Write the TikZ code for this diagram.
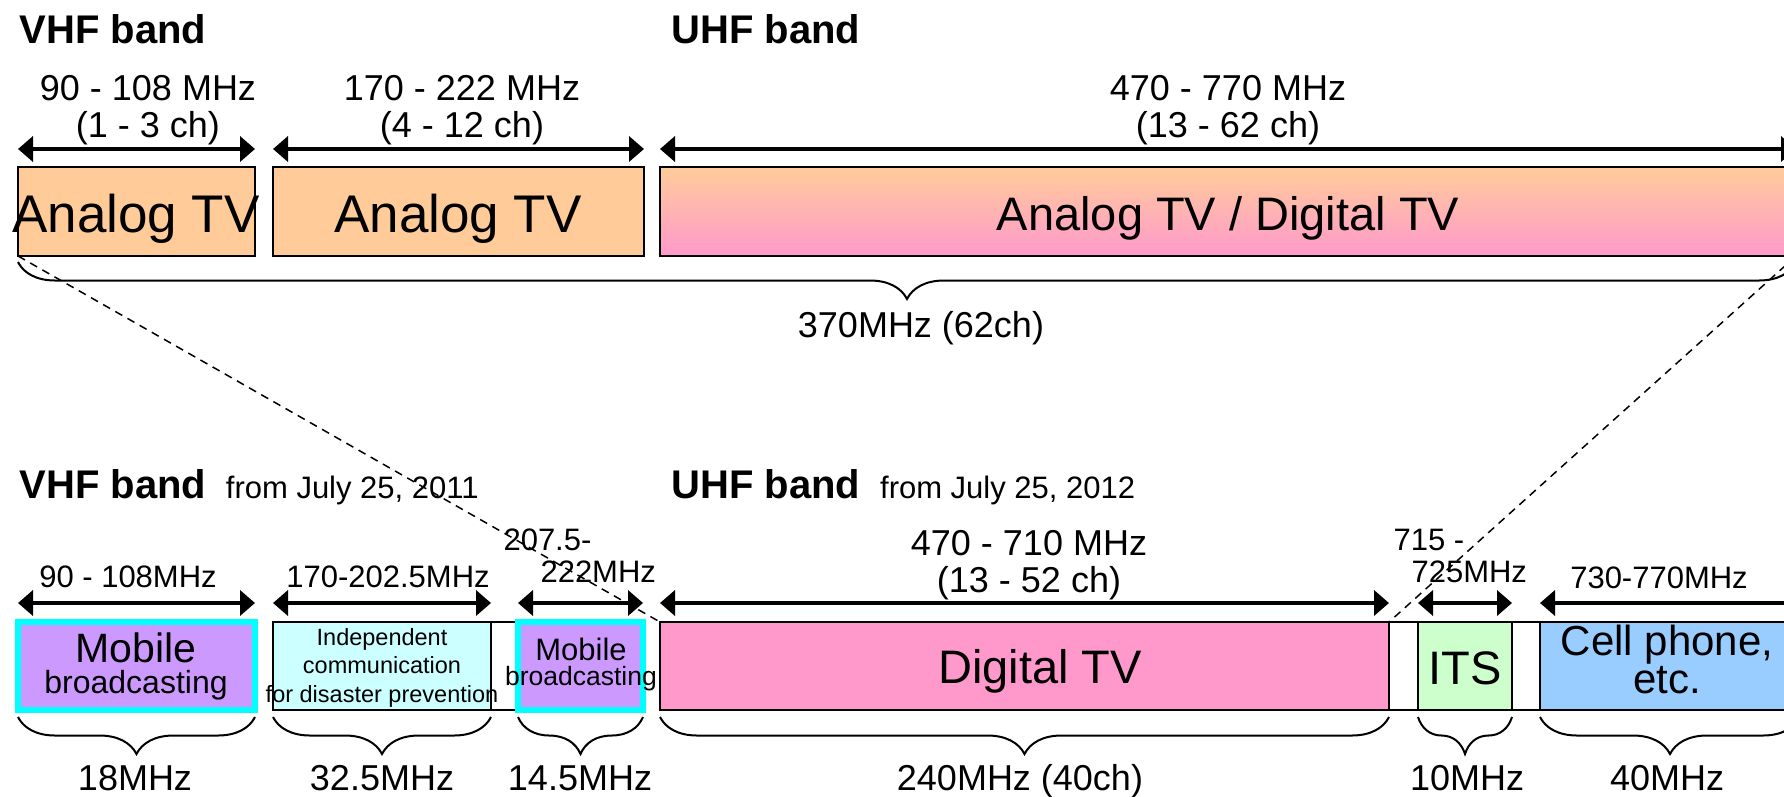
\documentclass[tikz,border=0pt]{standalone}
\usepackage{fontspec}
\setmainfont{Liberation Sans}
\usetikzlibrary{positioning,arrows.meta,calc,decorations.pathreplacing}
\definecolor{analog}{HTML}{FFCC99}
\definecolor{digital}{HTML}{FF99CC}
\definecolor{mobile}{HTML}{CC99FF}
\definecolor{disaster}{HTML}{CCFFFF}
\definecolor{itsgreen}{HTML}{CCFFCC}
\definecolor{cellblue}{HTML}{99CCFF}
\definecolor{frame}{HTML}{00FFFF}
\newcommand{\fsize}[2]{\fontsize{#1}{#2}\selectfont}
\tikzset{chart/.style={x=1pt,y=-1pt,>={Triangle[length=15pt,width=25pt]}},
    band/.style={draw,line width=2pt,outer sep=0pt,inner sep=0pt,anchor=north west},
    mobile band/.style={band,fill=mobile,draw=frame,line width=6pt},
    range arrow/.style={<->,line width=4pt},
    zoom line/.style={line width=1.5pt,dash pattern=on 8pt off 6pt},
    size brace/.style={decorate,decoration={brace,mirror,amplitude=37pt},line width=2pt},
    band title/.style={anchor=base west,font=\fsize{40}{44}\bfseries},
    big label/.style={anchor=base,align=center,font=\fsize{36}{37}},
    small label/.style={anchor=base,align=center,font=\fsize{31}{32}},
    box text/.style={anchor=base,align=center}}

\begin{document}
\begin{tikzpicture}[chart]
\useasboundingbox (0,0) rectangle (1784,796);

% before the switch-over
\node[band title] (vhfold) at (16,43) {VHF band};
\node[band title] (uhfold) at (668,43) {UHF band};

\node[band,fill=analog,minimum width=237pt,minimum height=89pt] (a1) at (18,167) {};
\node[band,fill=analog,minimum width=371pt,minimum height=89pt] (a2) at (273,167) {};
\node[band,top color=analog,bottom color=digital,minimum width=1136pt,minimum height=89pt] (a3) at (660,167) {};

\draw[range arrow] ([yshift=18pt]a1.north west) -- ([yshift=18pt]a1.north east);
\draw[range arrow] ([yshift=18pt]a2.north west) -- ([yshift=18pt]a2.north east);
\draw[range arrow] ([yshift=18pt]a3.north west) -- ([yshift=18pt]a3.north east);

% multi-line labels sit on their last baseline
\node[big label] (r1) at (148,137) {90 - 108 MHz\\(1 - 3 ch)};
\node[big label] (r2) at (462,137) {170 - 222 MHz\\(4 - 12 ch)};
\node[big label] (r3) at (1228,137) {470 - 770 MHz\\(13 - 62 ch)};

\node[box text,font=\fsize{53}{60}] (a1t) at (136,232) {Analog TV};
\node[box text,font=\fsize{53}{60}] (a2t) at (458,232) {Analog TV};
\node[box text,font=\fsize{47}{54}] (a3t) at (1228,230) {Analog TV / Digital TV};

\draw[size brace] ([yshift=-6pt]a1.south west) -- ([yshift=-6pt]a3.south east);
\node[big label] (s0) at (921,337) {370MHz (62ch)};

% after the switch-over
\node[band title] (vhfnew) at (16,498) {VHF band {\mdseries\fsize{31}{34} from July 25, 2011}};
\node[band title] (uhfnew) at (668,498) {UHF band {\mdseries\fsize{31}{34} from July 25, 2012}};

\node[mobile band,minimum width=237pt,minimum height=88pt] (m1) at (18,622) {};
\node[band,fill=disaster,minimum width=218pt,minimum height=88pt] (i1) at (273,622) {};
\node[band,fill=white,minimum width=27pt,minimum height=88pt] (g1) at (491,622) {};
\node[mobile band,minimum width=125pt,minimum height=88pt] (m2) at (518,622) {};
\node[band,fill=digital,minimum width=729pt,minimum height=88pt] (d) at (660,622) {};
\node[band,fill=white,minimum width=29pt,minimum height=88pt] (g2) at (1389,622) {};
\node[band,fill=itsgreen,minimum width=94pt,minimum height=88pt] (its) at (1418,622) {};
\node[band,fill=white,minimum width=28pt,minimum height=88pt] (g3) at (1512,622) {};
\node[band,fill=cellblue,minimum width=260pt,minimum height=88pt] (cell) at (1540,622) {};

\foreach \b in {m1,i1,m2,d,its,cell}
    \draw[range arrow] ([yshift=19pt]\b.north west) -- ([yshift=19pt]\b.north east);

\node[small label] (r4) at (128,587) {90 - 108MHz};
\node[small label] (r5) at (388,587) {170-202.5MHz};
\node[small label,align=left,anchor=base west] (r6) at (500,582) {207.5-\\\hspace*{37pt}222MHz};
\node[big label] (r7) at (1029,592) {470 - 710 MHz\\(13 - 52 ch)};
\node[small label,align=left,anchor=base west] (r8) at (1390,582) {715 -\\\hspace*{18pt}725MHz};
\node[small label] (r9) at (1659,588) {730-770MHz};

\node[box text,font=\fsize{41}{31}] (m1t) at (136,693) {Mobile\\{\fsize{32}{31}broadcasting}};
\node[box text,font=\fsize{23.5}{28.5}] (i1t) at (382,702) {Independent\\communication\\for disaster prevention};
\node[box text,font=\fsize{31}{25}] (m2t) at (581,685) {Mobile\\{\fsize{26.5}{25}broadcasting}};
\node[box text,font=\fsize{47}{54}] (dt) at (1040,683) {Digital TV};
\node[box text,font=\fsize{47}{54}] (itst) at (1465,684) {ITS};
\node[box text,font=\fsize{42}{38}] (cellt) at (1667,693) {Cell phone,\\etc.};

\foreach \b in {m1,i1,m2,d,its,cell}
    \draw[size brace] ([yshift=-7pt]\b.south west) -- ([yshift=-7pt]\b.south east);

\node[big label] (s1) at (135,790) {18MHz};
\node[big label] (s2) at (382,790) {32.5MHz};
\node[big label] (s3) at (580,790) {14.5MHz};
\node[big label] (s4) at (1020,790) {240MHz (40ch)};
\node[big label] (s5) at (1467,790) {10MHz};
\node[big label] (s6) at (1667,790) {40MHz};

\draw[zoom line] (a1.south west) -- (d.north west);
\draw[zoom line] (a3.south east) -- (g2.north west);
\end{tikzpicture}
\end{document}
